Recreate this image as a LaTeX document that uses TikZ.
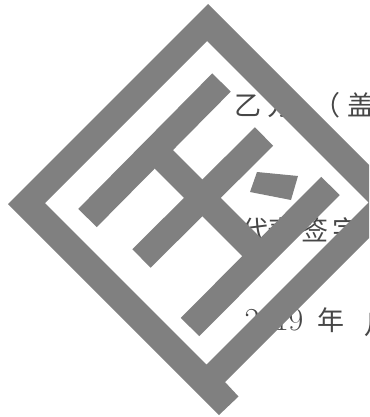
\documentclass[tikz,border=0pt]{standalone}
\usepackage{fontspec}
\newfontfamily\cjk{Noto Sans CJK SC}
\definecolor{markgray}{RGB}{128,128,128}
\tikzset{
  mark shape/.style={fill=markgray,draw=none},
  mark bar/.style={draw=markgray,line width=26pt,line cap=butt},
  doc text/.style={inner sep=0pt,anchor=base,text=black!72,font=\cjk\fontsize{27}{27}\selectfont}
}
\begin{document}
\begin{tikzpicture}[x=1pt,y=-1pt]
\useasboundingbox (0,0) rectangle (369,417);
\clip (0,0) rectangle (369,417);
\fill[white] (0,0) rectangle (369,417);
% document text
\node[doc text] (t1) at (248,116) {乙};
\node[doc text] (t2) at (281,116) {方};
\node[doc text] (t3) at (327,116) {（};
\node[doc text] (t4) at (361,116) {盖};
\node[doc text] (t5) at (255,240) {代};
\node[doc text] (t6) at (281,240) {表};
\node[doc text] (t7) at (315,240) {签};
\node[doc text] (t8) at (346,240) {字};
\node[doc text,font=\fontsize{32}{32}\selectfont] (t9) at (274,330) {2019};
\node[doc text] (t10) at (331,330) {年};
\node[doc text] (t11) at (378,334) {月};
% seal
\fill[mark shape,even odd rule]
  (208,4) -- (405.5,201.5) -- (225,382) -- (238.5,396.5) -- (219,415) -- (8,204) -- cycle
  (207,41) -- (368.5,202.5) -- (206.5,364.5) -- (45,203) -- cycle;
\coordinate (a1) at (221.5,82.5); \coordinate (a2) at (87.5,218);
\coordinate (b1) at (264,136.5);  \coordinate (b2) at (141.5,258.5);
\coordinate (c1) at (330.5,186);  \coordinate (c2) at (190,327);
\coordinate (d1) at (154.5,150);  \coordinate (d2) at (260.25,255.75);
\draw[mark bar] (a1) -- (a2);
\draw[mark bar] (b1) -- (b2);
\draw[mark bar] (c1) -- (c2);
\draw[mark bar] (d1) -- (d2);
\fill[mark shape] (257,172) -- (298,176) -- (291,200) -- (250,192) -- cycle;
\end{tikzpicture}
\end{document}
